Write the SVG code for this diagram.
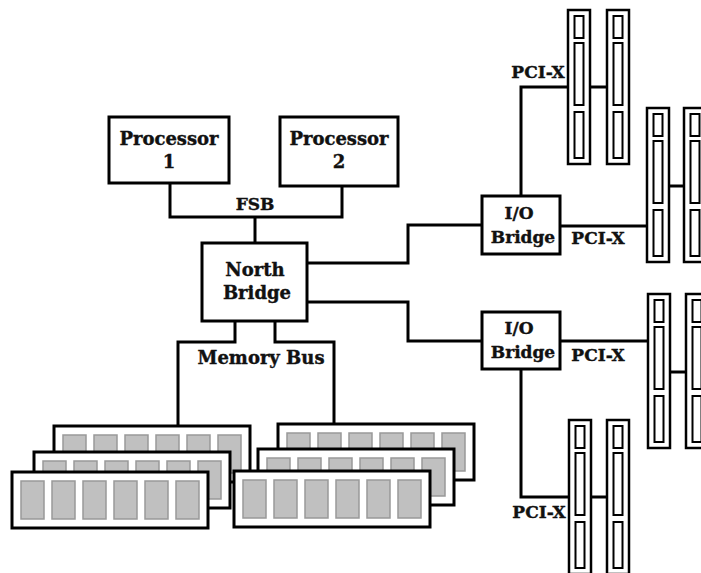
<svg xmlns="http://www.w3.org/2000/svg" xmlns:xlink="http://www.w3.org/1999/xlink" width="701" height="573" viewBox="0 0 701 573">
<style>
.box{fill:#fff;stroke:#000;stroke-width:3}
.lbl{font-family:"DejaVu Serif","Liberation Serif",serif;font-weight:bold;font-size:18px;text-anchor:middle;fill:#111;stroke:#111;stroke-width:0.4}
.sm{font-size:17px}
.wire{fill:none;stroke:#000;stroke-width:3}
.mod{fill:#fff;stroke:#000;stroke-width:3}
.chip{fill:#c0c0c0;stroke:#999;stroke-width:1.5}
.slot{fill:#fff;stroke:#000;stroke-width:2.5}
.slotin{fill:#fff;stroke:#000;stroke-width:2}
</style>
<defs>
<g id="module">
<rect class="mod" x="0" y="0" width="196" height="56"/>
<rect class="chip" x="9" y="9" width="23" height="38"/>
<rect class="chip" x="40" y="9" width="23" height="38"/>
<rect class="chip" x="71" y="9" width="23" height="38"/>
<rect class="chip" x="102" y="9" width="23" height="38"/>
<rect class="chip" x="133" y="9" width="23" height="38"/>
<rect class="chip" x="164" y="9" width="23" height="38"/>
</g>
<g id="slot">
<rect class="slot" x="0" y="0" width="22" height="154"/>
<rect class="slotin" x="6.5" y="6" width="9" height="22"/>
<rect class="slotin" x="6.5" y="33" width="9" height="62"/>
<rect class="slotin" x="6.5" y="102" width="9" height="46"/>
</g>
</defs>
<rect x="0" y="0" width="701" height="573" fill="#fff"/>

<g id="connectors">
<path class="wire" d="M170,183 V217 H342 V186"/>
<path class="wire" d="M255,217 V243"/>
<path class="wire" d="M307,263 H408 V225 H482"/>
<path class="wire" d="M307,302 H408 V341 H482"/>
<path class="wire" d="M235,321 V342 H178 V426"/>
<path class="wire" d="M275,321 V342 H334 V424"/>
<path class="wire" d="M521,196 V87 H568"/>
<path class="wire" d="M590,87 H607"/>
<path class="wire" d="M560,226 H647"/>
<path class="wire" d="M669,186 H684"/>
<path class="wire" d="M560,341 H648"/>
<path class="wire" d="M670,372 H686"/>
<path class="wire" d="M521,369 V497 H569"/>
<path class="wire" d="M591,497 H607"/>
<text class="lbl sm" x="255" y="210">FSB</text>
<text class="lbl" x="261" y="364">Memory Bus</text>
<text class="lbl sm" x="538" y="78">PCI-X</text>
<text class="lbl sm" x="598" y="244">PCI-X</text>
<text class="lbl sm" x="598" y="361">PCI-X</text>
<text class="lbl sm" x="539" y="518">PCI-X</text>
</g>

<g id="processor1">
<rect class="box" x="109" y="117" width="120" height="66"/>
<text class="lbl" x="169" y="145">Processor</text>
<text class="lbl" x="169" y="168">1</text>
</g>
<g id="processor2">
<rect class="box" x="280" y="117" width="118" height="69"/>
<text class="lbl" x="339" y="145">Processor</text>
<text class="lbl" x="339" y="168">2</text>
</g>
<g id="northbridge">
<rect class="box" x="202" y="243" width="105" height="78"/>
<text class="lbl" x="255" y="276">North</text>
<text class="lbl" x="257" y="299">Bridge</text>
</g>
<g id="iobridge1">
<rect class="box" x="482" y="196" width="78" height="58"/>
<text class="lbl sm" x="519" y="219">I/O</text>
<text class="lbl sm" x="523" y="243">Bridge</text>
</g>
<g id="iobridge2">
<rect class="box" x="482" y="312" width="78" height="57"/>
<text class="lbl sm" x="519" y="334">I/O</text>
<text class="lbl sm" x="523" y="358">Bridge</text>
</g>

<g id="memory-left">
<use xlink:href="#module" x="54" y="426"/>
<use xlink:href="#module" x="34" y="452"/>
<use xlink:href="#module" x="12" y="472"/>
</g>
<g id="memory-right">
<use xlink:href="#module" x="278" y="424"/>
<use xlink:href="#module" x="258" y="449"/>
<use xlink:href="#module" x="234" y="471"/>
</g>

<g id="slots-top">
<use xlink:href="#slot" x="568" y="10"/>
<use xlink:href="#slot" x="607" y="10"/>
</g>
<g id="slots-upper-right">
<use xlink:href="#slot" x="647" y="108"/>
<use xlink:href="#slot" x="684" y="108"/>
</g>
<g id="slots-lower-right">
<use xlink:href="#slot" x="648" y="294"/>
<use xlink:href="#slot" x="686" y="294"/>
</g>
<g id="slots-bottom">
<use xlink:href="#slot" x="569" y="420"/>
<use xlink:href="#slot" x="607" y="420"/>
</g>
</svg>
